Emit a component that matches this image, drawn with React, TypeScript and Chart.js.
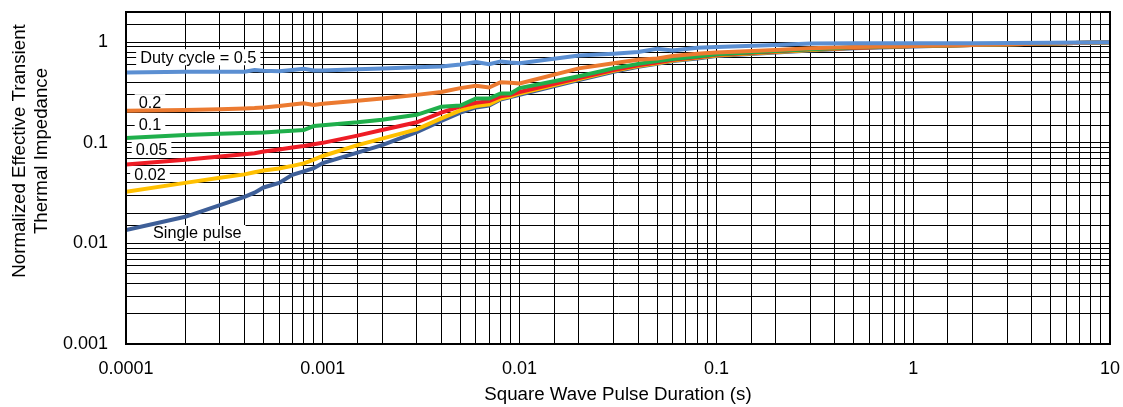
import React, { useEffect, useRef } from "react";
import { Chart, registerables } from "chart.js";

Chart.register(...registerables);

// Square wave pulse duration (s)
const pulseDuration = [
  1e-4, 2e-4, 3e-4, 4e-4, 4.5e-4, 5e-4, 6e-4, 7e-4, 8e-4, 9e-4, 1e-3, 1.5e-3, 2e-3, 3e-3, 4e-3, 5e-3, 6e-3,
  7e-3, 8e-3, 9e-3, 0.01, 0.02, 0.03, 0.04, 0.05, 0.06, 0.08, 0.1, 0.2, 0.3, 0.5, 1, 2, 5, 10,
];

const duty05 = [
  0.5, 0.51, 0.51, 0.51, 0.53, 0.52, 0.515, 0.53, 0.545, 0.525, 0.525, 0.54, 0.55, 0.565, 0.575, 0.6, 0.635,
  0.605, 0.645, 0.63, 0.62, 0.74, 0.77, 0.8, 0.86, 0.83, 0.88, 0.9, 0.94, 0.97, 0.98, 0.98, 0.98, 0.99, 1.0,
];
const duty02 = [
  0.208, 0.212, 0.216, 0.22, 0.222, 0.225, 0.232, 0.24, 0.247, 0.238, 0.245, 0.262, 0.276, 0.3, 0.32, 0.35, 0.37,
  0.355, 0.4, 0.395, 0.39, 0.55, 0.62, 0.67, 0.69, 0.73, 0.77, 0.79, 0.84, 0.87, 0.9, 0.92, 0.94, 0.97, 1.0,
];
const duty01 = [
  0.112, 0.12, 0.123, 0.125, 0.126, 0.127, 0.13, 0.132, 0.134, 0.147, 0.15, 0.16, 0.17, 0.19, 0.228, 0.235, 0.276,
  0.276, 0.31, 0.31, 0.35, 0.46, 0.55, 0.61, 0.65, 0.68, 0.72, 0.76, 0.82, 0.85, 0.89, 0.92, 0.94, 0.97, 1.0,
];
const duty005 = [
  0.061, 0.068, 0.073, 0.077, 0.079, 0.082, 0.086, 0.09, 0.093, 0.097, 0.1, 0.118, 0.134, 0.16, 0.2, 0.23, 0.25,
  0.26, 0.29, 0.3, 0.32, 0.44, 0.53, 0.59, 0.63, 0.67, 0.71, 0.75, 0.81, 0.85, 0.88, 0.92, 0.94, 0.97, 1.0,
];
const duty002 = [
  0.0326, 0.04, 0.045, 0.0486, 0.051, 0.053, 0.0557, 0.059, 0.0625, 0.068, 0.074, 0.095, 0.11, 0.136, 0.175, 0.21,
  0.232, 0.242, 0.275, 0.29, 0.31, 0.43, 0.52, 0.58, 0.62, 0.66, 0.7, 0.74, 0.8, 0.84, 0.88, 0.92, 0.94, 0.97, 1.0,
];
const singlePulse = [
  0.0136, 0.0184, 0.024, 0.029, 0.032, 0.036, 0.04, 0.048, 0.052, 0.056, 0.063, 0.08, 0.095, 0.128, 0.165, 0.2,
  0.225, 0.235, 0.27, 0.285, 0.3, 0.42, 0.51, 0.57, 0.61, 0.65, 0.69, 0.73, 0.79, 0.83, 0.87, 0.91, 0.94, 0.97, 1.0,
];

const seriesNames = ["Duty cycle = 0.5", "0.2", "0.1", "0.05", "0.02", "Single pulse"];
const seriesValues = [duty05, duty02, duty01, duty005, duty002, singlePulse];
const seriesColors = ["#5B8FD2", "#EC7A30", "#1FAF4B", "#EE1C25", "#FFC000", "#3E5F98"];

// label anchors (data coordinates: left x, middle y)
const labelX = [1.18e-4, 1.16e-4, 1.16e-4, 1.12e-4, 1.1e-4, 1.37e-4];
const labelY = [0.71, 0.254, 0.153, 0.0867, 0.0488, 0.0127];

const xTitle = "Square Wave Pulse Duration (s)";
const yTitle = ["Normalized Effective Transient", "Thermal Impedance"];

const FONT = "'Liberation Sans', Arial, sans-serif";

function decadeLabel(v: number): string {
  const l = Math.log10(v);
  const e = Math.round(l);
  if (Math.abs(l - e) > 1e-6) return "";
  return Math.pow(10, e).toFixed(Math.max(0, -e));
}

const overlayPlugin = {
  id: "overlay",
  beforeDatasetsDraw(chart: any) {
    const { ctx, scales } = chart;
    ctx.save();
    ctx.font = `16.3px ${FONT}`;
    ctx.textBaseline = "middle";
    ctx.textAlign = "left";
    seriesNames.forEach((name, i) => {
      const x = scales.x.getPixelForValue(labelX[i]);
      const y = scales.y.getPixelForValue(labelY[i]);
      const w = ctx.measureText(name).width;
      ctx.fillStyle = "#fff";
      ctx.fillRect(x - 4, y - 8, w + 8, 16);
      ctx.fillStyle = "#000";
      ctx.fillText(name, x, y + 1);
    });
    ctx.restore();
  },
  afterDraw(chart: any) {
    const { ctx, chartArea } = chart;
    ctx.save();
    ctx.strokeStyle = "#000";
    ctx.lineWidth = 2;
    ctx.strokeRect(chartArea.left, chartArea.top, chartArea.right - chartArea.left, chartArea.bottom - chartArea.top);
    // y axis title
    ctx.fillStyle = "#000";
    ctx.font = `18.7px ${FONT}`;
    ctx.textAlign = "center";
    ctx.textBaseline = "alphabetic";
    ctx.translate(0, 151);
    ctx.rotate(-Math.PI / 2);
    ctx.fillText(yTitle[0], 0, 25);
    ctx.fillText(yTitle[1], 0, 46.5);
    ctx.restore();
  },
};

export default function App() {
  const canvasRef = useRef<HTMLCanvasElement | null>(null);

  useEffect(() => {
    const canvas = canvasRef.current;
    if (!canvas) return;
    const chart = new Chart(canvas, {
      type: "line",
      data: {
        datasets: seriesNames.map((name, i) => ({
          label: name,
          data: pulseDuration.map((x, j) => ({ x, y: seriesValues[i][j] })),
          borderColor: seriesColors[i],
          backgroundColor: seriesColors[i],
          borderWidth: 4,
          pointRadius: 0,
          tension: 0,
          fill: false,
        })),
      },
      options: {
        animation: false,
        responsive: false,
        devicePixelRatio: 1,
        layout: { padding: { top: 12, right: 13, left: 0, bottom: 0 } },
        plugins: { legend: { display: false }, tooltip: { enabled: false } },
        scales: {
          x: {
            type: "logarithmic",
            min: 1e-4,
            max: 10,
            afterFit: (s: any) => {
              s.height = 63;
              s.paddingLeft = 0;
              s.paddingRight = 0;
            },
            grid: { color: "#000", lineWidth: 1, drawTicks: false },
            border: { color: "#000", width: 2 },
            ticks: {
              autoSkip: false,
              maxRotation: 0,
              padding: 14,
              color: "#000",
              font: { family: FONT, size: 18 },
              callback: (v: any) => decadeLabel(Number(v)),
            },
            title: {
              display: true,
              text: xTitle,
              color: "#000",
              font: { family: FONT, size: 18.7 },
              padding: { top: 0, bottom: 1 },
            },
          },
          y: {
            type: "logarithmic",
            min: 0.001,
            max: 2,
            afterFit: (s: any) => {
              s.width = 126;
              s.paddingTop = 0;
              s.paddingBottom = 0;
            },
            grid: { color: "#000", lineWidth: 1, drawTicks: false },
            border: { color: "#000", width: 2 },
            ticks: {
              autoSkip: false,
              padding: 18,
              color: "#000",
              font: { family: FONT, size: 18 },
              callback: (v: any) => decadeLabel(Number(v)),
            },
          },
        },
      },
      plugins: [overlayPlugin],
    });
    return () => chart.destroy();
  }, []);

  return (
    <div style={{ position: "fixed", left: 0, top: 0, width: 1123, height: 407, background: "#fff" }}>
      <canvas ref={canvasRef} width={1123} height={407} style={{ width: 1123, height: 407, display: "block" }} />
    </div>
  );
}
